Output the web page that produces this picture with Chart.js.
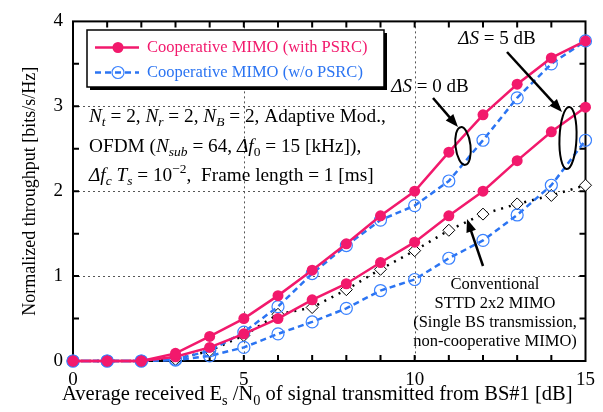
<!DOCTYPE html>
<html>
<head>
  <title>Cooperative MIMO throughput</title>
  <script src="https://cdn.jsdelivr.net/npm/chart.js@4.4.0/dist/chart.umd.min.js"></script>
  <style>
    body { margin: 0; background: #fff; }
  </style>
</head>
<body>
  <canvas id="chart" width="603" height="412"></canvas>

  <script>
    // x axis: average received Es/N0 [dB]
    var snrDb = [0, 1, 2, 3, 4, 5, 6, 7, 8, 9, 10, 11, 12, 13, 14, 15];

    // Cooperative MIMO with PSRC, dS = 0 dB and dS = 5 dB
    var psrcDs0 = [0, 0, 0, 0.09, 0.29, 0.50, 0.77, 1.07, 1.38, 1.71, 2.00, 2.46, 2.90, 3.26, 3.57, 3.77];
    var psrcDs5 = [0, 0, 0, 0.05, 0.16, 0.32, 0.50, 0.72, 0.91, 1.16, 1.40, 1.71, 2.00, 2.36, 2.70, 2.99];

    // Cooperative MIMO without PSRC
    var noPsrcDs0 = [0, 0, 0, 0.02, 0.12, 0.34, 0.64, 1.03, 1.36, 1.66, 1.83, 2.12, 2.60, 3.10, 3.50, 3.77];
    var noPsrcDs5 = [0, 0, 0, 0.01, 0.06, 0.16, 0.32, 0.46, 0.62, 0.83, 0.96, 1.21, 1.42, 1.72, 2.07, 2.60];

    // conventional STTD 2x2 MIMO
    var sttd = [0, 0, 0, 0.02, 0.12, 0.30, 0.55, 0.63, 0.84, 1.08, 1.30, 1.54, 1.73, 1.85, 1.95, 2.07];

    var xTicks = [0, 5, 10, 15];
    var yTicks = [0, 1, 2, 3, 4];

    var RED = "#f2196c";
    var BLUE = "#2b74f2";
    var SERIF = "'Liberation Serif', 'Times New Roman', serif";

    function pts(ys) {
      return snrDb.map(function(x, i) { return { x: x, y: ys[i] }; });
    }

    function redSet(ys) {
      return {
        data: pts(ys), borderColor: RED, borderWidth: 2.5,
        pointRadius: 5.5, pointBackgroundColor: RED, pointBorderColor: RED, pointBorderWidth: 0
      };
    }
    function blueSet(ys) {
      return {
        data: pts(ys), borderColor: BLUE, borderWidth: 2.5, borderDash: [6, 4],
        pointRadius: 6, pointBackgroundColor: "rgba(0,0,0,0)", pointBorderColor: "#3a82ff", pointBorderWidth: 1.2
      };
    }

    // draws a line of text made of pieces: n normal, i italic, sub / isub subscript, sup superscript
    function rich(ctx, x, y, parts, size, align) {
      function fontFor(k) {
        var s = (k == "sub" || k == "isub" || k == "sup") ? size * 0.7 : size;
        var it = (k == "i" || k == "isub") ? "italic " : "";
        return it + s + "px " + SERIF;
      }
      var total = 0;
      parts.forEach(function(p) { ctx.font = fontFor(p[1]); total += ctx.measureText(p[0]).width; });
      var cx = align == "center" ? x - total / 2 : x;
      ctx.textBaseline = "middle";
      ctx.textAlign = "left";
      parts.forEach(function(p) {
        ctx.font = fontFor(p[1]);
        var dy = 0;
        if (p[1] == "sub" || p[1] == "isub") dy = size * 0.28;
        if (p[1] == "sup") dy = -size * 0.35;
        ctx.fillText(p[0], cx, y + dy);
        cx += ctx.measureText(p[0]).width;
      });
    }

    function arrow(ctx, x1, y1, x2, y2) {
      var a = Math.atan2(y2 - y1, x2 - x1);
      var L = 13, W = 5;
      ctx.beginPath();
      ctx.moveTo(x1, y1);
      ctx.lineTo(x2 - Math.cos(a) * L * 0.8, y2 - Math.sin(a) * L * 0.8);
      ctx.lineWidth = 2.5;
      ctx.stroke();
      ctx.beginPath();
      ctx.moveTo(x2, y2);
      ctx.lineTo(x2 - Math.cos(a) * L - Math.sin(a) * W, y2 - Math.sin(a) * L + Math.cos(a) * W);
      ctx.lineTo(x2 - Math.cos(a) * L + Math.sin(a) * W, y2 - Math.sin(a) * L - Math.cos(a) * W);
      ctx.closePath();
      ctx.fill();
    }

    var decor = {
      id: "decor",
      beforeDatasetsDraw: function(chart) {
        var ctx = chart.ctx, a = chart.chartArea;
        var xs = chart.scales.x, ys = chart.scales.y;
        ctx.save();
        // dotted grid at major ticks
        ctx.strokeStyle = "#555";
        ctx.lineWidth = 1;
        ctx.setLineDash([2, 3]);
        [5, 10].forEach(function(v) {
          var p = Math.round(xs.getPixelForValue(v)) + 0.5;
          ctx.beginPath(); ctx.moveTo(p, a.top); ctx.lineTo(p, a.bottom); ctx.stroke();
        });
        [1, 2, 3].forEach(function(v) {
          var p = Math.round(ys.getPixelForValue(v)) + 0.5;
          ctx.beginPath(); ctx.moveTo(a.left, p); ctx.lineTo(a.right, p); ctx.stroke();
        });
        ctx.setLineDash([]);
        // inward ticks on all sides
        ctx.strokeStyle = "#000";
        ctx.lineWidth = 2;
        for (var v = 1; v < 15; v++) {
          var p = xs.getPixelForValue(v);
          ctx.beginPath();
          ctx.moveTo(p, a.bottom); ctx.lineTo(p, a.bottom - 6);
          ctx.moveTo(p, a.top); ctx.lineTo(p, a.top + 6);
          ctx.stroke();
        }
        for (var w = 0.5; w < 4; w += 0.5) {
          var q = ys.getPixelForValue(w);
          ctx.beginPath();
          ctx.moveTo(a.left, q); ctx.lineTo(a.left + 6, q);
          ctx.moveTo(a.right, q); ctx.lineTo(a.right - 6, q);
          ctx.stroke();
        }
        // frame
        ctx.lineWidth = 2;
        ctx.strokeRect(a.left, a.top, a.right - a.left, a.bottom - a.top);
        ctx.restore();
      },
      afterDraw: function(chart) {
        var ctx = chart.ctx, a = chart.chartArea;
        ctx.save();
        ctx.fillStyle = "#000";
        ctx.strokeStyle = "#000";

        // axis titles
        rich(ctx, 62, 395, [["Average received E", "n"], ["s", "sub"], [" /N", "n"], ["0", "sub"],
          [" of signal transmitted from BS#1 [dB]", "n"]], 20.5, "left");
        ctx.save();
        ctx.translate(30, (a.top + a.bottom) / 2);
        ctx.rotate(-Math.PI / 2);
        ctx.font = "18px " + SERIF;
        ctx.textAlign = "center";
        ctx.textBaseline = "middle";
        ctx.fillText("Normalized throughput [bits/s/Hz]", 0, 0);
        ctx.restore();

        // legend box with shadow
        ctx.fillRect(90, 33, 297, 57);
        ctx.fillStyle = "#fff";
        ctx.fillRect(87, 30, 297, 57);
        ctx.lineWidth = 1.5;
        ctx.strokeRect(87, 30, 297, 57);
        ctx.lineWidth = 2.5;
        ctx.strokeStyle = RED;
        ctx.beginPath(); ctx.moveTo(95, 47.5); ctx.lineTo(139, 47.5); ctx.stroke();
        ctx.fillStyle = RED;
        ctx.beginPath(); ctx.arc(118, 47.5, 5.5, 0, Math.PI * 2); ctx.fill();
        ctx.strokeStyle = BLUE;
        ctx.setLineDash([6, 4]);
        ctx.beginPath(); ctx.moveTo(95, 72.5); ctx.lineTo(139, 72.5); ctx.stroke();
        ctx.setLineDash([]);
        ctx.lineWidth = 1.2;
        ctx.strokeStyle = "#3a82ff";
        ctx.beginPath(); ctx.arc(118, 72.5, 6, 0, Math.PI * 2); ctx.stroke();
        ctx.font = "16.5px " + SERIF;
        ctx.textBaseline = "middle";
        ctx.textAlign = "left";
        ctx.fillStyle = RED;
        ctx.fillText("Cooperative MIMO (with PSRC)", 147, 48);
        ctx.fillStyle = BLUE;
        ctx.fillText("Cooperative MIMO (w/o PSRC)", 147, 73);

        // simulation parameters
        ctx.fillStyle = "#000";
        rich(ctx, 89, 117, [["N", "i"], ["t", "isub"], [" = 2, ", "n"], ["N", "i"], ["r", "isub"], [" = 2, ", "n"],
          ["N", "i"], ["B", "isub"], [" = 2, Adaptive Mod.,", "n"]], 19.3, "left");
        rich(ctx, 89, 147, [["OFDM (", "n"], ["N", "i"], ["sub", "isub"], [" = 64, ", "n"], ["\u0394f", "i"], ["0", "sub"],
          [" = 15 [kHz]),", "n"]], 19.3, "left");
        rich(ctx, 89, 176, [["\u0394f", "i"], ["c", "isub"], [" ", "n"], ["T", "i"], ["s", "isub"], [" = 10", "n"], ["\u22122", "sup"],
          [",  Frame length = 1 [ms]", "n"]], 19.3, "left");

        // delta S annotations
        rich(ctx, 430, 87, [["\u0394S", "i"], [" = 0 dB", "n"]], 19, "center");
        rich(ctx, 497, 39, [["\u0394S", "i"], [" = 5 dB", "n"]], 19, "center");
        ctx.strokeStyle = "#000";
        ctx.fillStyle = "#000";
        arrow(ctx, 433, 98, 458, 127);
        arrow(ctx, 507, 52, 562, 112);
        ctx.lineWidth = 2;
        ctx.beginPath(); ctx.ellipse(463, 146, 7.5, 19, -0.12, 0, Math.PI * 2); ctx.stroke();
        ctx.beginPath(); ctx.ellipse(568, 138, 8.5, 31, 0.04, 0, Math.PI * 2); ctx.stroke();

        // conventional STTD label
        arrow(ctx, 483, 266, 467, 219);
        ctx.font = "16.5px " + SERIF;
        ctx.textAlign = "center";
        ctx.textBaseline = "middle";
        ctx.fillText("Conventional", 495, 285);
        ctx.fillText("STTD 2x2 MIMO", 495, 304);
        ctx.fillText("(Single BS transmission,", 495, 323);
        ctx.fillText("non-cooperative MIMO)", 495, 342);
        ctx.restore();
      }
    };

    var ctx = document.getElementById("chart").getContext("2d");
    new Chart(ctx, {
      type: "line",
      data: {
        datasets: [
          redSet(psrcDs0),
          redSet(psrcDs5),
          blueSet(noPsrcDs0),
          blueSet(noPsrcDs5),
          {
            data: pts(sttd), borderColor: "#000", borderWidth: 2.5, borderDash: [2, 6],
            pointStyle: "rectRot", pointRadius: 6, pointBackgroundColor: "#fff",
            pointBorderColor: "#000", pointBorderWidth: 1
          }
        ]
      },
      options: {
        responsive: false,
        animation: false,
        clip: false,
        layout: { padding: { left: 0, top: 16, right: 17, bottom: 0 } },
        elements: { line: { tension: 0 } },
        plugins: { legend: { display: false }, tooltip: { enabled: false } },
        scales: {
          x: {
            type: "linear", min: 0, max: 15,
            afterBuildTicks: function(s) { s.ticks = xTicks.map(function(v) { return { value: v }; }); },
            afterFit: function(s) { s.height = 51; },
            grid: { display: false, drawTicks: false },
            border: { display: false },
            ticks: { color: "#000", padding: 8, maxRotation: 0, font: { family: SERIF, size: 19 } }
          },
          y: {
            min: 0, max: 4,
            afterBuildTicks: function(s) { s.ticks = yTicks.map(function(v) { return { value: v }; }); },
            afterFit: function(s) { s.width = 73; },
            grid: { display: false, drawTicks: false },
            border: { display: false },
            ticks: { color: "#000", padding: 10, font: { family: SERIF, size: 19 } }
          }
        }
      },
      plugins: [decor]
    });
  </script>
</body>
</html>
